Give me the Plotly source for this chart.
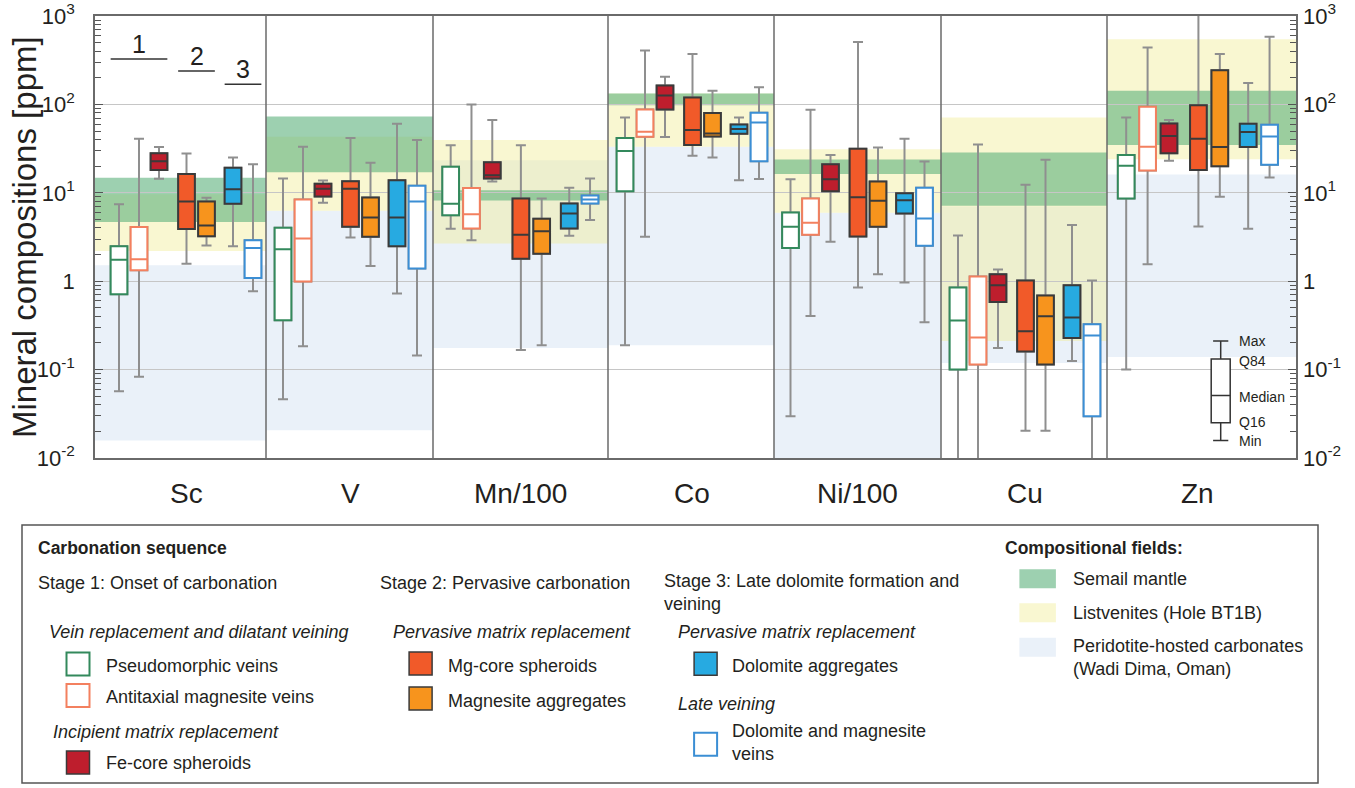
import plotly.graph_objects as go

# ---------------- data ----------------
ELEMENTS = ["Sc", "V", "Mn/100", "Co", "Ni/100", "Cu", "Zn"]
SERIES = ["Pseudomorphic veins", "Antitaxial magnesite veins", "Fe-core spheroids",
          "Mg-core spheroids", "Magnesite aggregates", "Dolomite aggregates",
          "Dolomite and magnesite veins"]

# each row: [Min, Q16, Median, Q84, Max] for the 7 series (order of SERIES)
SC = [[0.057, 0.71, 1.75, 2.49, 7.4],
      [0.083, 1.33, 1.77, 4.09, 41],
      [14.4, 18.1, 22.8, 28.1, 33],
      [1.58, 3.9, 7.98, 16.3, 27.9],
      [2.53, 3.23, 4.27, 7.98, 8.77],
      [2.49, 7.5, 11.0, 19.2, 25.1],
      [0.77, 1.09, 2.38, 2.91, 21.1]]
V = [[0.0461, 0.361, 2.30, 4.02, 14.5],
     [0.184, 0.99, 3.04, 8.41, 33.2],
     [7.7, 9.08, 11.1, 12.65, 13.8],
     [3.12, 4.12, 11.1, 13.5, 41.6],
     [1.49, 3.18, 5.26, 8.85, 21.9],
     [0.724, 2.49, 5.26, 13.9, 60.4],
     [0.144, 1.39, 7.98, 12.0, 39.5]]
MN = [[3.91, 5.58, 7.5, 19.7, 34.4],
      [2.91, 3.94, 5.73, 11.3, 100],
      [13.4, 14.5, 15.8, 22.2, 66.5],
      [0.167, 1.79, 3.35, 8.63, 34.4],
      [0.188, 2.04, 3.68, 5.08, 8.63],
      [3.26, 3.94, 5.83, 7.57, 11.4],
      [4.91, 7.57, 8.41, 9.33, 14.5]]
CO = [[0.188, 10.4, 29.8, 41.6, 71.3],
      [3.18, 43, 49.1, 87.8, 406],
      [42.7, 87.8, 126, 164, 206],
      [26.2, 34.7, 51.2, 120, 372],
      [25.1, 43.4, 47, 79.8, 143],
      [13.9, 46.6, 52.6, 59.4, 71.3],
      [14.3, 22.8, 62.5, 80.5, 156]]
NI = [[0.0297, 2.38, 4.12, 5.98, 14.2],
      [0.405, 3.35, 4.57, 8.63, 87],
      [2.79, 10.4, 14.2, 21.1, 26.7],
      [0.847, 3.21, 8.93, 31.5, 508],
      [1.2, 4.12, 8.11, 13.4, 32.6],
      [0.966, 5.83, 8.24, 9.91, 40.8],
      [0.344, 2.51, 5.12, 11.4, 22.6]]
CU = [[0.008, 0.1, 0.359, 0.847, 3.29],
      [0.008, 0.114, 0.23, 1.13, 35.2],
      [0.176, 0.583, 0.901, 1.2, 1.36],
      [0.0204, 0.16, 0.272, 1.02, 12.3],
      [0.0204, 0.114, 0.402, 0.689, 23.7],
      [0.125, 0.228, 0.388, 0.901, 4.31],
      [0.008, 0.0297, 0.243, 0.326, 1.02]]
ZN = [[0.1, 8.63, 20.2, 26.7, 71.3],
      [1.55, 17.9, 33.2, 94.2, 441],
      [23, 28.1, 43.8, 60.9, 66.5],
      [4.16, 18.1, 40.8, 97.5, 1200],
      [9.0, 20, 32.9, 243, 372],
      [3.91, 32.9, 48.7, 60.4, 175],
      [14.9, 20.8, 43.4, 58.9, 583]]
STATS = [SC, V, MN, CO, NI, CU, ZN]

# compositional fields (per element)
GREEN_LO = [4.66, 17.1, 8.18, 97.5, 16.3, 7.13, 34.7]
GREEN_HI = [14.8, 73, 10.7, 133, 23.8, 28.6, 143]
YELLOW_LO = [2.19, 6.25, 2.67, 33.2, 5.94, 0.211, 24]
YELLOW_HI = [9.6, 43, 39.5, 133, 31, 71.3, 545]
BLUE_LO = [0.0158, 0.0206, 0.176, 0.188, 0.01, 0.119, 0.139]
BLUE_HI = [1.52, 6.25, 23.4, 33.2, 5.94, 7.0, 16.1]

# explanatory box (Min, Q16, Median, Q84, Max)
KEY_BOX = [0.0158, 0.0251, 0.0508, 0.132, 0.211]
KEY_LABELS = ["Min", "Q16", "Median", "Q84", "Max"]

TICK_VALS = [0.01, 0.1, 1, 10, 100, 1000]
TICK_TEXT = ["10<sup>-2</sup>", "10<sup>-1</sup>", "1", "10<sup>1</sup>", "10<sup>2</sup>", "10<sup>3</sup>"]
MINOR_VALS = [m * 10 ** e for e in range(-2, 3) for m in range(2, 10)]

# ---------------- layout constants ----------------
W, H = 1355, 788
PL, PR, PT, PB = 95, 1296, 16, 458
PANEL_EDGES = [95, 266, 433, 608, 774, 941, 1107, 1296]
SLOT = [17, 37, 57, 84.5, 104.5, 131, 151]
SHIFT = [7, 0, 0, 0, -0.5, 0, 1]
SCALE = [1, 1, 1.04, 1, 1, 1, 1.07]
BOX_W = 16.7
KEY_X = 1220.7

FONT = "Liberation Sans, Arial, sans-serif"
TXT = "#231f20"
WHISKER = "#8f8f8f"
DARK = "#3a3a3a"
FILL = ["white", "white", "#be1e2d", "#f15a29", "#f7941d", "#27aae1", "white"]
LINE = ["#33895c", "#f3805f", DARK, DARK, DARK, DARK, "#3b8ed4"]

GREEN_F = "rgba(92,177,123,0.6)"
YELLOW_F = "rgba(241,237,153,0.45)"
BLUE_F = "#eaf1f9"


def xpos(p, k):
    return PANEL_EDGES[p] + SHIFT[p] + SCALE[p] * SLOT[k]


def px(x):
    return (x - PL) / (PR - PL)


def py(y):
    return (PB - y) / (PB - PT)


fig = go.Figure()

# grey whiskers (full range)
for p, stats in enumerate(STATS):
    for k, row in enumerate(stats):
        mn, q16, med, q84, mx = row
        fig.add_trace(go.Box(x=[xpos(p, k)], lowerfence=[mn], q1=[q16], median=[med], q3=[q84],
                             upperfence=[mx], width=BOX_W, whiskerwidth=0.6,
                             line=dict(color=WHISKER, width=2), fillcolor="white",
                             boxpoints=False, hoverinfo="skip", showlegend=False))
# coloured boxes on top
for p, stats in enumerate(STATS):
    for k, row in enumerate(stats):
        mn, q16, med, q84, mx = row
        fig.add_trace(go.Box(x=[xpos(p, k)], lowerfence=[q16], q1=[q16], median=[med], q3=[q84],
                             upperfence=[q84], width=BOX_W, whiskerwidth=0,
                             line=dict(color=LINE[k], width=2), fillcolor=FILL[k],
                             boxpoints=False, hoverinfo="skip", showlegend=False))

# explanatory key box
fig.add_trace(go.Box(x=[KEY_X], lowerfence=[KEY_BOX[0]], q1=[KEY_BOX[1]], median=[KEY_BOX[2]],
                     q3=[KEY_BOX[3]], upperfence=[KEY_BOX[4]], width=19, whiskerwidth=0.8,
                     line=dict(color="#333333", width=1.5), fillcolor="white",
                     boxpoints=False, hoverinfo="skip", showlegend=False))

# invisible trace for right axis
fig.add_trace(go.Scatter(x=[PL], y=[1], yaxis="y2", mode="markers", marker=dict(opacity=0),
                         hoverinfo="skip", showlegend=False))

shapes = []
for p in range(len(ELEMENTS)):
    x0, x1 = PANEL_EDGES[p], PANEL_EDGES[p + 1]
    for lo, hi, col in ((BLUE_LO, BLUE_HI, BLUE_F), (YELLOW_LO, YELLOW_HI, YELLOW_F),
                        (GREEN_LO, GREEN_HI, GREEN_F)):
        shapes.append(dict(type="rect", xref="x", yref="y", x0=x0, x1=x1, y0=lo[p], y1=hi[p],
                           fillcolor=col, line=dict(width=0), layer="below"))
for xe in PANEL_EDGES[1:-1]:
    shapes.append(dict(type="line", xref="x", yref="paper", x0=xe, x1=xe, y0=0, y1=1,
                       line=dict(color="#6a6a6a", width=1.5), layer="above"))

annotations = []
# stage group markers above Sc
for lab, k0, k1, ypix in (("1", 0, 2, 59), ("2", 3, 4, 71), ("3", 5, 6, 84.3)):
    xa = xpos(0, k0) - BOX_W / 2
    xb = xpos(0, k1) + BOX_W / 2
    shapes.append(dict(type="line", xref="x", yref="paper", x0=xa, x1=xb, y0=py(ypix), y1=py(ypix),
                       line=dict(color="#333333", width=1.5)))
    annotations.append(dict(x=(xa + xb) / 2, y=py(ypix + 1), xref="x", yref="paper", text=lab,
                            showarrow=False, yanchor="bottom", xanchor="center",
                            font=dict(size=25, color=TXT, family=FONT)))

# key labels
for lab, ypix in zip(KEY_LABELS, [440.7, 421.7, 396.7, 360.7, 340.7]):
    annotations.append(dict(x=1237, y=py(ypix), xref="x", yref="paper", text=lab,
                            showarrow=False, xanchor="left", yanchor="middle",
                            font=dict(size=14, color=TXT, family=FONT)))

# element labels
for p, el in enumerate(ELEMENTS):
    xc = (xpos(p, 0) + xpos(p, 6)) / 2
    annotations.append(dict(x=xc, y=py(494), xref="x", yref="paper", text=el, showarrow=False,
                            xanchor="center", yanchor="middle",
                            font=dict(size=28, color=TXT, family=FONT)))

# y title
annotations.append(dict(x=px(24), y=0.5, xref="paper", yref="paper",
                        text="Mineral compositions [ppm]", textangle=-90, showarrow=False,
                        xanchor="center", yanchor="middle",
                        font=dict(size=33, color=TXT, family=FONT)))

# ---------------- legend panel ----------------
shapes.append(dict(type="rect", xref="paper", yref="paper", x0=px(22), x1=px(1318),
                   y0=py(783), y1=py(525), line=dict(color="#555555", width=1.5),
                   fillcolor="rgba(0,0,0,0)", layer="above"))


def txt(x, y, s, size=18):
    annotations.append(dict(x=px(x), y=py(y), xref="paper", yref="paper", text=s,
                            showarrow=False, xanchor="left", yanchor="middle", align="left",
                            font=dict(size=size, color=TXT, family=FONT)))


txt(35.5, 548.3, "<b>Carbonation sequence</b>", 17.5)
txt(1003, 548.3, "<b>Compositional fields:</b>", 17.5)
txt(35.5, 582.7, "Stage 1: Onset of carbonation")
txt(378, 582.7, "Stage 2: Pervasive carbonation")
txt(662, 592.5, "Stage 3: Late dolomite formation and<br>veining")
txt(47, 632.3, "<i>Vein replacement and dilatant veining</i>")
txt(391, 632.3, "<i>Pervasive matrix replacement</i>")
txt(675.5, 632.3, "<i>Pervasive matrix replacement</i>")
txt(50.5, 731.7, "<i>Incipient matrix replacement</i>")
txt(675.5, 704.3, "<i>Late veining</i>")

LEG_SQ = [(78, 664), (78, 695.5), (78, 762.5), (420.6, 663.5), (420.6, 698.5), (705.6, 663.7), (705.6, 744.3)]
LEG_TXT = [(104, 666), (104, 697.3), (104, 763.3), (446, 665.7), (446, 700.7), (730, 665.7), (730, 742.8)]
LEG_LABELS = ["Pseudomorphic veins", "Antitaxial magnesite veins", "Fe-core spheroids",
              "Mg-core spheroids", "Magnesite aggregates", "Dolomite aggregates",
              "Dolomite and magnesite<br>veins"]
for k, ((cx, cy), (tx, ty)) in enumerate(zip(LEG_SQ, LEG_TXT)):
    shapes.append(dict(type="rect", xref="paper", yref="paper", x0=px(cx - 11.5), x1=px(cx + 11.5),
                       y0=py(cy + 11.5), y1=py(cy - 11.5), fillcolor=FILL[k],
                       line=dict(color=LINE[k], width=2 if FILL[k] == "white" else 1.5),
                       layer="above"))
    txt(tx, ty, LEG_LABELS[k])

FIELD_SW = [(569.3, 588.3, GREEN_F), (603.3, 622.3, YELLOW_F), (637.7, 656.7, BLUE_F)]
for (ya, yb, col) in FIELD_SW:
    shapes.append(dict(type="rect", xref="paper", yref="paper", x0=px(1019.4), x1=px(1055.9),
                       y0=py(yb), y1=py(ya), fillcolor=col, line=dict(width=0), layer="above"))
txt(1070.5, 579.3, "Semail mantle")
txt(1070.5, 613.3, "Listvenites (Hole BT1B)")
txt(1070.5, 657.8, "Peridotite-hosted carbonates<br>(Wadi Dima, Oman)")

axis_common = dict(type="log", range=[-2, 3], tickvals=TICK_VALS, ticktext=TICK_TEXT,
                   ticks="inside", ticklen=8, tickcolor="#555555", tickwidth=1,
                   tickfont=dict(size=22, color=TXT, family=FONT),
                   minor=dict(tickvals=MINOR_VALS, ticks="inside", ticklen=6,
                              tickcolor="#555555", tickwidth=1, showgrid=False),
                   zeroline=False)

fig.update_layout(
    width=W, height=H,
    margin=dict(l=PL, r=W - PR, t=PT, b=H - PB, autoexpand=False),
    paper_bgcolor="white", plot_bgcolor="white",
    boxmode="overlay", showlegend=False,
    xaxis=dict(range=[PL, PR], showticklabels=False, ticks="", showgrid=False, zeroline=False,
               showline=True, mirror=True, linecolor="#6a6a6a", linewidth=1.5),
    yaxis=dict(**axis_common, showgrid=True, gridcolor="#c6c6c6", gridwidth=1,
               showline=True, mirror=True, linecolor="#6a6a6a", linewidth=1.5,
               ticklabelstandoff=14),
    yaxis2=dict(**axis_common, overlaying="y", side="right", showgrid=False, showline=False,
                ticklabelstandoff=6),
    shapes=shapes, annotations=annotations,
)

fig.write_html("out.html", config={"displayModeBar": False},
               post_script="document.body.style.margin='0';")
